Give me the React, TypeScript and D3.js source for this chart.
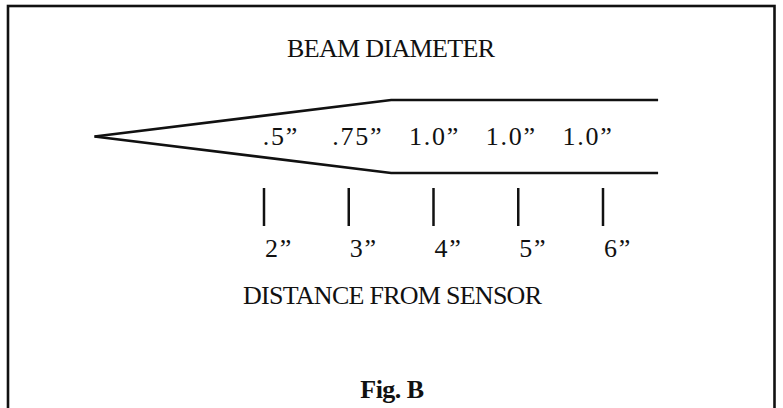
import React from 'react';
import * as d3 from 'd3';

// distance from sensor (inches) and the tick labels under the beam
const distances = [2, 3, 4, 5, 6];
const distanceLabels = ['2\u201D', '3\u201D', '4\u201D', '5\u201D', '6\u201D'];
// beam diameter read at each distance
const beamLabels = ['.5\u201D', '.75\u201D', '1.0\u201D', '1.0\u201D', '1.0\u201D'];
// outline of the beam: distance -> diameter
const profileDistance = [0, 3.5, 6.65];
const profileDiameter = [0, 1, 1];

const width = 783;
const height = 408;

const xScale = d3.scaleLinear().domain([2, 6]).range([264, 603]);
const yScale = d3.scaleLinear().domain([-0.5, 0.5]).range([173, 100]);
const labelScale = d3.scalePoint<number>().domain(d3.range(beamLabels.length)).range([281, 588]);

const font = 'Liberation Serif, serif';

export default function App() {
  const profile = profileDistance.map((d, i) => ({ d, r: profileDiameter[i] / 2 }));
  const line = d3.line<{ d: number; r: number }>()
    .x((p) => xScale(p.d));
  const upper = line.y((p) => yScale(p.r))(profile) as string;
  const lower = line.y((p) => yScale(-p.r))(profile) as string;

  return (
    <svg width={width} height={height} style={{ position: 'absolute', left: 0, top: 0 }}
      fontFamily={font} fill="#111">
      <rect x={0} y={0} width={width} height={height} fill="#fff" />
      <rect x={8} y={6} width={766.5} height={420} fill="none" stroke="#111" strokeWidth={2.6} />

      <text x={391} y={57} fontSize={26} textAnchor="middle" textLength={208} lengthAdjust="spacing">BEAM DIAMETER</text>

      <path d={upper} fill="none" stroke="#111" strokeWidth={2.5} />
      <path d={lower} fill="none" stroke="#111" strokeWidth={2.5} />

      {beamLabels.map((t, i) => (
        <text key={'b' + i} x={labelScale(i)} y={145} fontSize={26} textAnchor="middle" letterSpacing={1.8}>{t}</text>
      ))}

      {distances.map((d, i) => (
        <g key={'t' + i}>
          <line x1={xScale(d)} x2={xScale(d)} y1={188} y2={226} stroke="#111" strokeWidth={2.5} />
          <text x={xScale(d) + 1} y={257} fontSize={26} letterSpacing={1.8}>{distanceLabels[i]}</text>
        </g>
      ))}

      <text x={392.5} y={304} fontSize={26} textAnchor="middle" textLength={299} lengthAdjust="spacing">DISTANCE FROM SENSOR</text>
      <text x={392} y={398} fontSize={26} fontWeight="bold" textAnchor="middle" letterSpacing={-0.5}>Fig. B</text>
    </svg>
  );
}
